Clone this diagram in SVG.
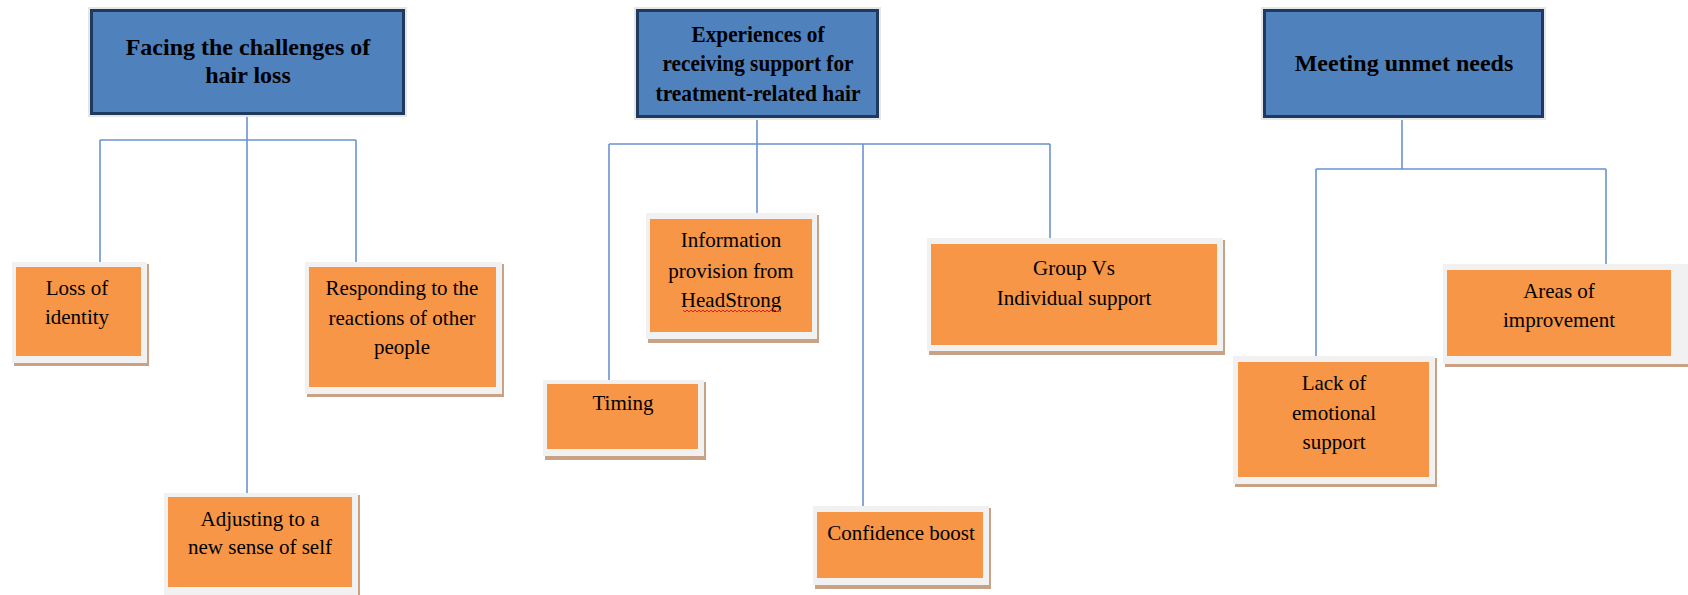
<svg xmlns="http://www.w3.org/2000/svg" width="1688" height="595" viewBox="0 0 1688 595">
  <style>
    .head rect.box { fill: #4F81BD; stroke: #1F3A5F; stroke-width: 3; }
    .head rect.halo { fill: #E6E6E6; }
    .head text { font-family: "Liberation Serif", "Times New Roman", serif; font-weight: bold; font-size: 24px; fill: #000; text-anchor: middle; }
    .leaf rect.shadow { fill: #C9A184; }
    .leaf rect.frame { fill: #F1F1F1; }
    .leaf rect.box { fill: #F79646; }
    .leaf text { font-family: "Liberation Serif", "Times New Roman", serif; font-size: 21px; fill: #000; text-anchor: middle; }
    #connectors path { fill: none; stroke: #6A93D0; stroke-width: 1.6; }
    .spell { fill: none; stroke: #E02020; stroke-width: 1; }
  </style>

  <rect width="1688" height="595" fill="#FFFFFF"/>

  <!-- connectors -->
  <g id="connectors">
    <path d="M247 115 V140 M100 140 H356 M100 140 V265 M247 140 V495 M356 140 V267"/>
    <path d="M757 118 V144 M609 144 H1050 M609 144 V382 M757 144 V215 M863 144 V510 M1050 144 V240"/>
    <path d="M1402 118 V169 M1316 169 H1606 M1316 169 V360 M1606 169 V267"/>
  </g>

  <!-- theme headers -->
  <g id="theme-facing" class="head">
    <rect class="halo" x="88" y="7" width="319" height="110"/>
    <rect class="box" x="91.5" y="10.5" width="312" height="103"/>
    <text x="248" y="55">Facing the challenges of</text>
    <text x="248" y="83">hair loss</text>
  </g>

  <g id="theme-support" class="head">
    <rect class="halo" x="634" y="7" width="247" height="113"/>
    <rect class="box" x="637.5" y="10.5" width="240" height="106"/>
    <text x="758" y="42" font-size="22" textLength="133" lengthAdjust="spacingAndGlyphs">Experiences of</text>
    <text x="758" y="71" font-size="22" textLength="191" lengthAdjust="spacingAndGlyphs">receiving support for</text>
    <text x="758" y="101" font-size="22" textLength="205" lengthAdjust="spacingAndGlyphs">treatment-related hair</text>
  </g>

  <g id="theme-unmet" class="head">
    <rect class="halo" x="1261" y="7" width="285" height="113"/>
    <rect class="box" x="1264.5" y="10.5" width="278" height="106"/>
    <text x="1404" y="71">Meeting unmet needs</text>
  </g>

  <!-- sub-themes -->
  <g id="loss-of-identity" class="leaf">
    <rect class="shadow" x="14" y="264" width="135" height="102"/>
    <rect class="frame" x="12" y="262" width="135" height="101"/>
    <rect class="box" x="16" y="267" width="125" height="89"/>
    <text x="77" y="295">Loss of</text>
    <text x="77" y="324">identity</text>
  </g>

  <g id="adjusting" class="leaf">
    <rect class="shadow" x="166" y="495" width="194" height="102"/>
    <rect class="frame" x="164" y="493" width="194" height="102"/>
    <rect class="box" x="168" y="497" width="184" height="90"/>
    <text x="260" y="526">Adjusting to a</text>
    <text x="260" y="554">new sense of self</text>
  </g>

  <g id="responding" class="leaf">
    <rect class="shadow" x="307" y="264" width="197" height="133"/>
    <rect class="frame" x="305" y="262" width="197" height="132"/>
    <rect class="box" x="309" y="267" width="187" height="120"/>
    <text x="402" y="295">Responding to the</text>
    <text x="402" y="325">reactions of other</text>
    <text x="402" y="354">people</text>
  </g>

  <g id="timing" class="leaf">
    <rect class="shadow" x="545" y="382" width="161" height="78"/>
    <rect class="frame" x="543" y="380" width="161" height="76"/>
    <rect class="box" x="547" y="384" width="151" height="65"/>
    <text x="623" y="410">Timing</text>
  </g>

  <g id="information" class="leaf">
    <rect class="shadow" x="648" y="215" width="171" height="128"/>
    <rect class="frame" x="646" y="213" width="171" height="126"/>
    <rect class="box" x="650" y="219" width="162" height="113"/>
    <text x="731" y="247">Information</text>
    <text x="731" y="278">provision from</text>
    <text x="731" y="307">HeadStrong</text>
    <path class="spell" d="M683 310 l2 2 l2 -2 l2 2 l2 -2 l2 2 l2 -2 l2 2 l2 -2 l2 2 l2 -2 l2 2 l2 -2 l2 2 l2 -2 l2 2 l2 -2 l2 2 l2 -2 l2 2 l2 -2 l2 2 l2 -2 l2 2 l2 -2 l2 2 l2 -2 l2 2 l2 -2 l2 2 l2 -2 l2 2 l2 -2 l2 2 l2 -2 l2 2 l2 -2 l2 2 l2 -2 l2 2 l2 -2 l2 2 l2 -2 l2 2 l2 -2 l2 2 l2 -2 l2 2 l2 -2 l2 2"/>
  </g>

  <g id="confidence" class="leaf">
    <rect class="shadow" x="815" y="508" width="176" height="81"/>
    <rect class="frame" x="813" y="506" width="176" height="79"/>
    <rect class="box" x="817" y="512" width="166" height="66"/>
    <text x="901" y="540">Confidence boost</text>
  </g>

  <g id="group-individual" class="leaf">
    <rect class="shadow" x="929" y="240" width="296" height="115"/>
    <rect class="frame" x="927" y="238" width="296" height="113"/>
    <rect class="box" x="931" y="244" width="286" height="101"/>
    <text x="1074" y="275">Group Vs</text>
    <text x="1074" y="305">Individual support</text>
  </g>

  <g id="lack-emotional" class="leaf">
    <rect class="shadow" x="1235" y="358" width="202" height="129"/>
    <rect class="frame" x="1233" y="356" width="202" height="128"/>
    <rect class="box" x="1238" y="362" width="191" height="115"/>
    <text x="1334" y="390">Lack of</text>
    <text x="1334" y="420">emotional</text>
    <text x="1334" y="449">support</text>
  </g>

  <g id="areas-improvement" class="leaf">
    <rect class="shadow" x="1445" y="266" width="245" height="101"/>
    <rect class="frame" x="1443" y="264" width="245" height="100"/>
    <rect class="box" x="1447" y="270" width="224" height="86"/>
    <text x="1559" y="298">Areas of</text>
    <text x="1559" y="327">improvement</text>
  </g>
</svg>
